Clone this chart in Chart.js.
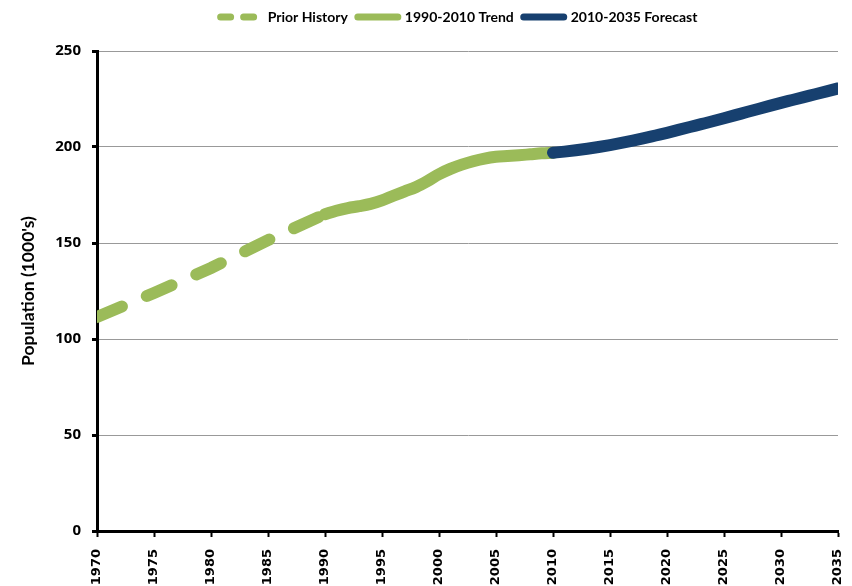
<!DOCTYPE html>
<html>
<head>
<meta charset="utf-8">
<script src="https://cdn.jsdelivr.net/npm/chart.js@4.4.0/dist/chart.umd.min.js"></script>
<style>
  body { margin: 0; background: #fff; }
  canvas { display: block; }
</style>
</head>
<body>
<canvas id="canvas" width="852" height="586"></canvas>
<script>
// data (population, 1000's)
var priorYears = [1970, 1975, 1980, 1985, 1990];
var priorValues = [111.5, 124, 137, 151.5, 165];

var trendYears = [1990, 1991, 1992, 1993, 1994, 1995, 1996, 1997, 1998, 1999, 2000,
  2001, 2002, 2003, 2004, 2005, 2006, 2007, 2008, 2009, 2010];
var trendValues = [165, 166.8, 168.2, 169.2, 170.4, 172.2, 174.6, 176.9, 179.2, 182.3, 185.8,
  188.6, 190.8, 192.6, 194, 194.9, 195.3, 195.7, 196.2, 196.7, 197];

var forecastYears = [2010, 2011, 2012, 2013, 2014, 2015, 2016, 2017, 2018, 2019, 2020,
  2021, 2022, 2023, 2024, 2025, 2026, 2027, 2028, 2029, 2030,
  2031, 2032, 2033, 2034, 2035];
var forecastValues = [197, 197.6, 198.3, 199.1, 200, 201, 202.1, 203.3, 204.6, 206, 207.4,
  208.9, 210.4, 211.9, 213.4, 215, 216.6, 218.2, 219.8, 221.4, 223,
  224.5, 226, 227.5, 229, 230.5];

var xTicks = [1970, 1975, 1980, 1985, 1990, 1995, 2000, 2005, 2010, 2015, 2020, 2025, 2030, 2035];
var yTicks = [0, 50, 100, 150, 200, 250];

var green = '#9bbb59';
var blue = '#17406f';

function points(xs, ys) {
  return xs.map(function (x, i) {
    return { x: x, y: ys[i] };
  });
}

// datasets
var data = {
  datasets: [
    {
      label: 'Prior History',
      data: points(priorYears, priorValues),
      borderColor: green,
      backgroundColor: green,
      borderWidth: 12,
      borderDash: [27, 27],
      borderCapStyle: 'round',
      pointRadius: 0,
      clip: 0,
      order: 3,
    },
    {
      label: '1990-2010 Trend',
      data: points(trendYears, trendValues),
      borderColor: green,
      backgroundColor: green,
      borderWidth: 12,
      borderCapStyle: 'round',
      cubicInterpolationMode: 'monotone',
      pointRadius: 0,
      clip: 0,
      order: 2,
    },
    {
      label: '2010-2035 Forecast',
      data: points(forecastYears, forecastValues),
      borderColor: blue,
      backgroundColor: blue,
      borderWidth: 12,
      borderCapStyle: 'round',
      cubicInterpolationMode: 'monotone',
      pointRadius: 0,
      clip: 0,
      order: 1,
    },
  ],
};

// move the legend: a bit right and up, like the original
var legendShift = {
  id: 'legendShift',
  afterLayout: function (chart) {
    chart.legend.left += 40;
    chart.legend.right += 40;
    chart.legend.top -= 17;
    chart.legend.bottom -= 17;
  },
};

var config = {
  type: 'line',
  data: data,
  plugins: [legendShift],
  options: {
    responsive: false,
    animation: false,
    layout: { padding: { top: 17, right: 14, left: 0, bottom: 0 } },
    plugins: {
      tooltip: { enabled: false },
      legend: {
        position: 'top',
        labels: {
          usePointStyle: true,
          pointStyle: 'line',
          pointStyleWidth: 40,
          padding: 10,
          color: '#000',
          font: { family: 'Lato', weight: 'bold', size: 14 },
          sort: function (a, b) { return a.datasetIndex - b.datasetIndex; },
          generateLabels: function (chart) {
            var items = Chart.defaults.plugins.legend.labels.generateLabels(chart);
            items.forEach(function (item) {
              item.lineWidth = 7;
              item.lineCap = 'round';
              if (item.datasetIndex === 0) item.lineDash = [10, 13];
            });
            return items;
          },
        },
      },
    },
    scales: {
      x: {
        type: 'linear',
        min: 1970,
        max: 2035,
        afterBuildTicks: function (scale) {
          scale.ticks = xTicks.map(function (v) { return { value: v }; });
        },
        afterFit: function (scale) {
          scale.height = 55;
          scale.paddingLeft = 0;
          scale.paddingRight = 0;
        },
        ticks: {
          minRotation: 90,
          maxRotation: 90,
          padding: 12,
          color: '#000',
          font: { family: 'DejaVu Sans', weight: 'bold', size: 13 },
          callback: function (v) { return String(v); },
        },
        grid: {
          drawOnChartArea: false,
          tickLength: 6,
          tickColor: '#000',
          tickWidth: 2,
        },
        border: { color: '#000', width: 3 },
      },
      y: {
        min: 0,
        max: 250,
        afterBuildTicks: function (scale) {
          scale.ticks = yTicks.map(function (v) { return { value: v }; });
        },
        afterFit: function (scale) {
          scale.width = 97;
        },
        ticks: {
          padding: 11,
          color: '#000',
          font: { family: 'Open Sans', weight: 'bold', size: 15 },
        },
        grid: {
          color: '#999',
          lineWidth: 1,
          tickColor: '#000',
          tickWidth: 3,
          tickLength: 5,
        },
        border: { color: '#000', width: 3 },
        title: {
          display: true,
          text: "Population (1000's)",
          color: '#000',
          padding: { top: 18, bottom: 0 },
          font: { family: 'Lato', weight: 'bold', size: 17.5 },
        },
      },
    },
  },
};

var myChart = new Chart(document.getElementById('canvas'), config);
</script>
</body>
</html>
